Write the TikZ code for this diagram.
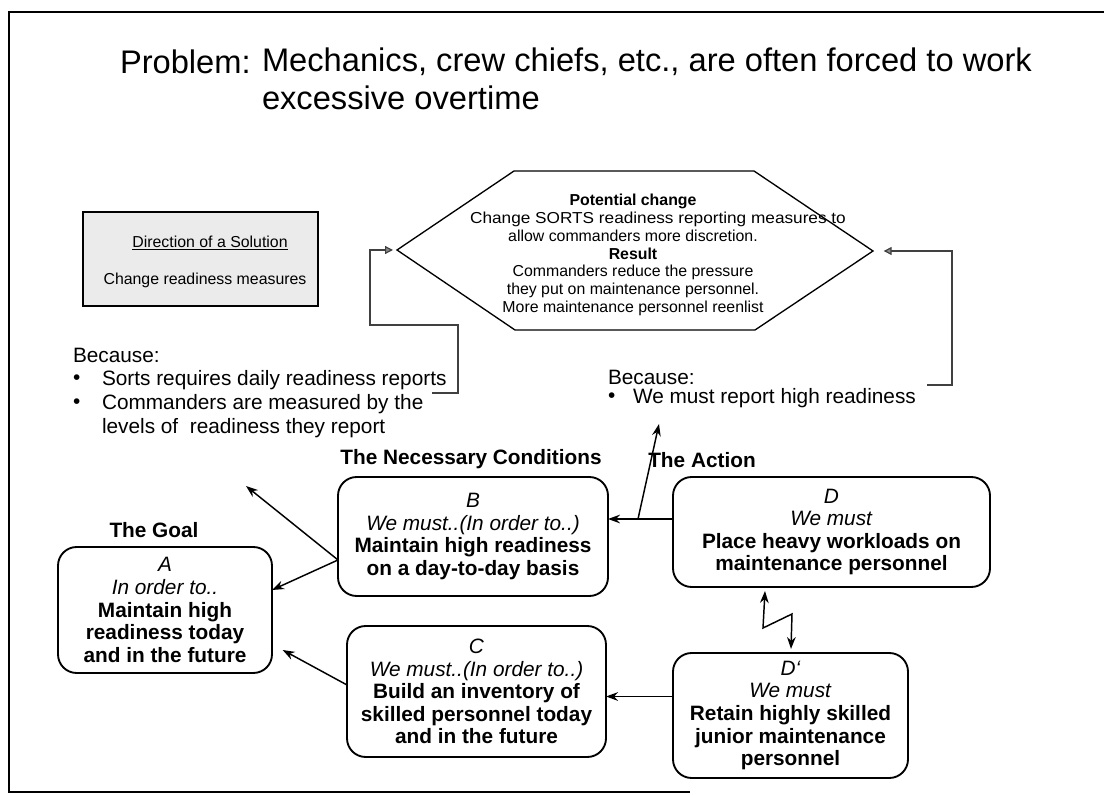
\documentclass[tikz,border=0pt]{standalone}
\usepackage{graphicx}
\usepackage{fontspec}
\setmainfont{Liberation Sans}
\usetikzlibrary{arrows.meta}
\newcommand\ttlfont{\fontsize{24.5}{27}\selectfont}
\newcommand\bxfont{\fontsize{15.6}{16.9}\selectfont}
\newcommand\smfont{\fontsize{11.9}{13.3}\selectfont}
\begin{document}
\begin{tikzpicture}[x=0.75pt,y=-0.75pt,
  every node/.style={inner sep=0pt, outer sep=0pt},
  cbox/.style={draw, line width=1.4pt, rounded corners=14pt, align=center, font=\bxfont},
  head/.style={font=\bxfont\bfseries},
  plain/.style={font=\bxfont, anchor=west},
  arr/.style={line width=1.1pt, -{Stealth[length=9pt,width=6.5pt]}},
  brk/.style={line width=0.9pt, black!75, -{Triangle[length=6pt,width=6pt,fill=black!45]}},
  hexline/.style={line width=1pt},
  frameline/.style={line width=1.5pt}
]
\useasboundingbox (0,0) rectangle (1104,795);

% frame
\draw[frameline] (690,792) -- (9,792) -- (9,12) -- (1104,12);

% problem statement
\node[font=\ttlfont, anchor=west] (prob) at (120,62) {Problem:};
\node[font=\ttlfont, anchor=west] (prob1) at (262,62) {Mechanics, crew chiefs, etc., are often forced to work};
\node[font=\ttlfont, anchor=west] (prob2) at (262,98) {excessive overtime};

% direction of a solution
\node[draw, line width=1.5pt, fill=black!8, minimum width=176.25pt, minimum height=70.5pt] (dir) at (200.5,259) {};
\node[font=\smfont] (dirhead) at (210,243) {\underline{Direction of a Solution}};
\node[font=\smfont] (dirtext) at (205,280) {Change readiness measures};

% potential change hexagon
\coordinate (hexL) at (397,250);
\coordinate (hexTL) at (514,171);
\coordinate (hexTR) at (754,171);
\coordinate (hexR) at (873,251);
\coordinate (hexBR) at (755,330);
\coordinate (hexBL) at (515,330);
\draw[hexline] (hexL) -- (hexTL) -- (hexTR) -- (hexR) -- (hexBR) -- (hexBL) -- cycle;
\node[font=\smfont, align=center] (hextext) at (633,255) {\textbf{Potential change}\\
\hspace*{37.5pt}\scalebox{1.085}[1]{Change SORTS readiness reporting measures to}\\
allow commanders more discretion.\\
\textbf{Result}\\
Commanders reduce the pressure\\
they put on maintenance personnel.\\
More maintenance personnel reenlist};

% left "because" block
\node[plain] (becL) at (73,355) {Because:};
\node[plain] (bulL1) at (73,380) {\textbullet};
\node[plain] (txtL1) at (102,380) {Sorts requires daily readiness reports};
\node[plain] (bulL2) at (73,404) {\textbullet};
\node[plain] (txtL2) at (102,404) {Commanders are measured by the};
\node[plain] (txtL3) at (102,428) {levels of\ \ readiness they report};

% right "because" block
\node[plain] (becR) at (608,377) {Because:};
\node[plain] (bulR1) at (608,398) {\textbullet};
\node[plain] (txtR1) at (633,398) {We must report high readiness};

% brackets leading back to the hexagon
\coordinate (bl1) at (432,393);
\coordinate (bl2) at (458,393);
\coordinate (bl3) at (458,325);
\coordinate (bl4) at (370,325);
\coordinate (bl5) at (370,250);
\draw[brk, shorten >=3pt] (bl1) -- (bl2) -- (bl3) -- (bl4) -- (bl5) -- (hexL);
\coordinate (br1) at (927,385);
\coordinate (br2) at (952,385);
\coordinate (br3) at (952,251);
\draw[brk, shorten >=8pt] (br1) -- (br2) -- (br3) -- (hexR);

% section headings
\node[head] (hgoal) at (154,530) {The Goal};
\node[head] (hnec) at (471,459) {The Necessary Conditions};
\node[head] (hact) at (702,460) {The Action};

% boxes
\node[cbox, minimum width=160.5pt, minimum height=94.5pt] (A) at (165,610)
  {\textit{A}\\ \textit{In order to..}\\ \textbf{Maintain high}\\ \textbf{readiness today}\\ \textbf{and in the future}};
\node[cbox, minimum width=202.5pt, minimum height=89.25pt] (B) at (473,536.5)
  {\textit{B}\\ \textit{We must..(In order to..)}\\ \textbf{Maintain high readiness}\\ \textbf{on a day-to-day basis}};
\node[cbox, minimum width=194.25pt, minimum height=98.25pt] (C) at (476.5,691.5)
  {\textit{C}\\ \textit{We must..(In order to..)}\\ \textbf{Build an inventory of}\\ \textbf{skilled personnel today}\\ \textbf{and in the future}};
\node[cbox, minimum width=237.75pt, minimum height=82.5pt] (D) at (831.5,532)
  {\textit{D}\\ \textit{We must}\\ \textbf{Place heavy workloads on}\\ \textbf{maintenance personnel}};
\node[cbox, minimum width=176.25pt, minimum height=93.75pt] (Dp) at (790.5,715.5)
  {\textit{D\textquoteleft}\\ \textit{We must}\\ \textbf{Retain highly skilled}\\ \textbf{junior maintenance}\\ \textbf{personnel}};

% connectors
\coordinate (Bout) at ([yshift=-17.6pt]B.west);
\draw[arr] (Bout) -- ([yshift=15pt]A.east);
\coordinate (upL) at (246,486);
\draw[arr] (Bout) -- (upL);
\draw[arr] ([yshift=4.9pt]C.west) -- ([xshift=8pt,yshift=-30pt]A.east);
\coordinate (Dout) at ([yshift=9.75pt]D.west);
\draw[arr] (Dout) -- (Dout -| B.east);
\coordinate (split) at (638,519);
\coordinate (upR) at (659,424);
\draw[arr] (split) -- (upR);
\coordinate (Dpout) at ([yshift=14.25pt]Dp.west);
\draw[arr] (Dpout) -- (Dpout -| C.east);

% conflict between D and D'
\coordinate (zz1) at (765,591);
\coordinate (zz2) at (763,628);
\coordinate (zz3) at (792,614);
\coordinate (zz4) at (791,649);
\draw[line width=1.1pt, {Stealth[length=9pt,width=6.5pt]}-{Stealth[length=9pt,width=6.5pt]}] (zz1) -- (zz2) -- (zz3) -- (zz4);
\end{tikzpicture}
\end{document}
